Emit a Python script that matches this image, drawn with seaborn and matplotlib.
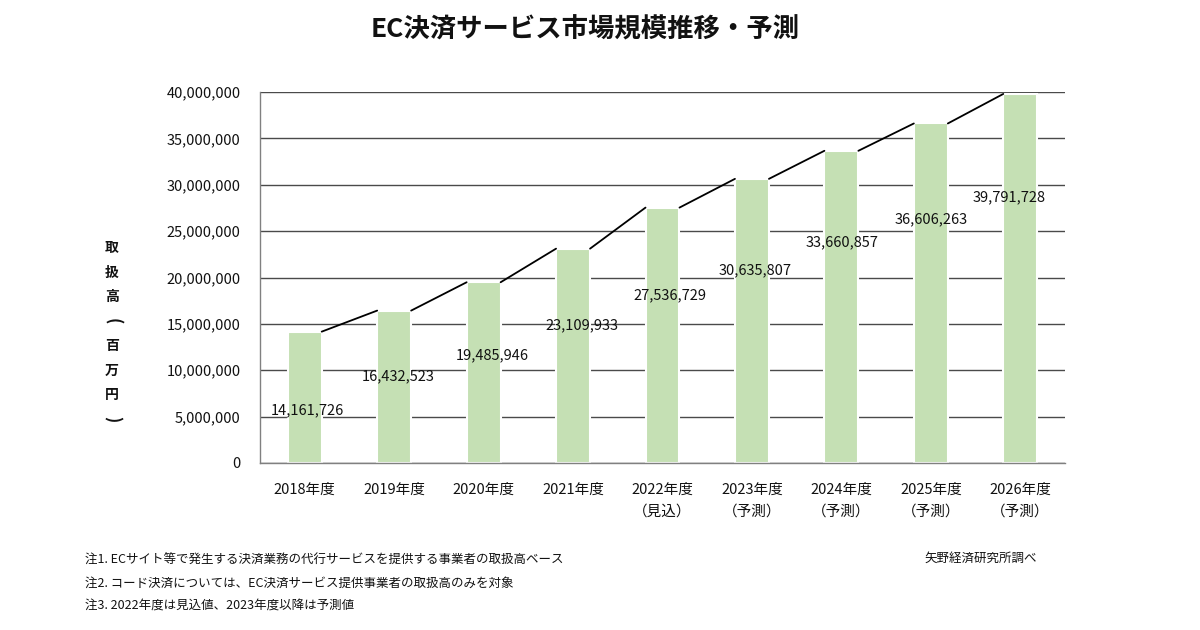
import matplotlib
matplotlib.use("Agg")
import matplotlib.pyplot as plt
import seaborn as sns
import pandas as pd
import numpy as np

# ---- data ----
categories = ["2018年度", "2019年度", "2020年度", "2021年度", "2022年度\n（見込）",
              "2023年度\n（予測）", "2024年度\n（予測）", "2025年度\n（予測）", "2026年度\n（予測）"]
values = [14161726, 16432523, 19485946, 23109933, 27536729,
          30635807, 33660857, 36606263, 39791728]
y_ticks = [0, 5000000, 10000000, 15000000, 20000000, 25000000, 30000000, 35000000, 40000000]

title = "EC決済サービス市場規模推移・予測"
y_label = "取扱高(百万円)"
notes = ["注1. ECサイト等で発生する決済業務の代行サービスを提供する事業者の取扱高ベース",
         "注2. コード決済については、EC決済サービス提供事業者の取扱高のみを対象",
         "注3. 2022年度は見込値、2023年度以降は予測値"]
source = "矢野経済研究所調べ"

# label placement (positions only, in data units)
label_y = [5.7e6, 9.4e6, 11.6e6, 14.9e6, 18.1e6, 20.8e6, 23.8e6, 26.3e6, 28.7e6]
label_dx = [0.03, 0.045, 0.1, 0.1, 0.08, 0.03, 0.01, 0.0, -0.13]

sns.set_theme(style="white")
plt.rcParams["font.family"] = ["Noto Sans CJK JP", "DejaVu Sans"]

fig = plt.figure(figsize=(12, 6.3), dpi=100)
ax = fig.add_axes([260 / 1200, 1 - 463 / 630, 805 / 1200, 371 / 630])

df = pd.DataFrame({"cat": categories, "val": values})
bar_w = 0.38
sns.barplot(data=df, x="cat", y="val", color="#c5e0b4", saturation=1, width=bar_w,
            edgecolor="white", linewidth=1.5, ax=ax, zorder=2)

ax.set_xlim(-0.5, len(categories) - 0.5)
ax.set_ylim(0, 40000000)
ax.set_yticks(y_ticks)
ax.set_yticklabels([f"{v:,}" for v in y_ticks])
ax.set_xlabel("")
ax.set_ylabel("")

ax.set_axisbelow(True)
ax.grid(axis="y", color="#4a4a4a", linewidth=1.0)
ax.grid(axis="x", visible=False)

for s in ["top", "right"]:
    ax.spines[s].set_visible(False)
for s in ["left", "bottom"]:
    ax.spines[s].set_color("#808080")
    ax.spines[s].set_linewidth(1.0)

ax.tick_params(axis="y", length=0, pad=14, labelsize=10.5, labelcolor="#111111")
ax.tick_params(axis="x", which="major", length=0, pad=14, labelsize=10.5, labelcolor="#111111")
for t in ax.get_xticklabels():
    t.set_linespacing(1.7)
ax.set_xticks(np.arange(0.5, len(categories) - 1, 1), minor=True)
ax.tick_params(axis="x", which="minor", direction="in", length=4, color="#808080", width=1)

# series lines connecting bar tops
patches = ax.patches[:len(values)]
for i in range(len(values) - 1):
    p0, p1 = patches[i], patches[i + 1]
    ax.plot([p0.get_x() + p0.get_width(), p1.get_x()],
            [values[i], values[i + 1]], color="black", linewidth=1.3, zorder=3)

# data labels
for i, v in enumerate(values):
    ax.text(i + label_dx[i], label_y[i], f"{v:,}", ha="center", va="center",
            fontsize=10.5, color="#111111", zorder=4)

fig.text(585 / 1200, 1 - 30 / 630, title, ha="center", va="center",
         fontsize=19, fontweight="bold", color="#111111")

# vertical (stacked) y-axis label; brackets rotated to vertical form
y0, step = 248, 24.5
for k, ch in enumerate(y_label):
    is_br = ch in "()"
    fig.text(112 / 1200, 1 - (y0 + step * k) / 630, ch, ha="center", va="center",
             fontsize=12 if is_br else 10, fontweight="bold",
             rotation=-90 if is_br else 0, color="#111111")

for k, n in enumerate(notes):
    fig.text(85 / 1200, 1 - (560 + 23 * k) / 630, n, ha="left", va="center",
             fontsize=9, color="#111111")
fig.text(1037 / 1200, 1 - 558 / 630, source, ha="right", va="center",
         fontsize=9, color="#111111")

fig.savefig("out.png", dpi=100)
